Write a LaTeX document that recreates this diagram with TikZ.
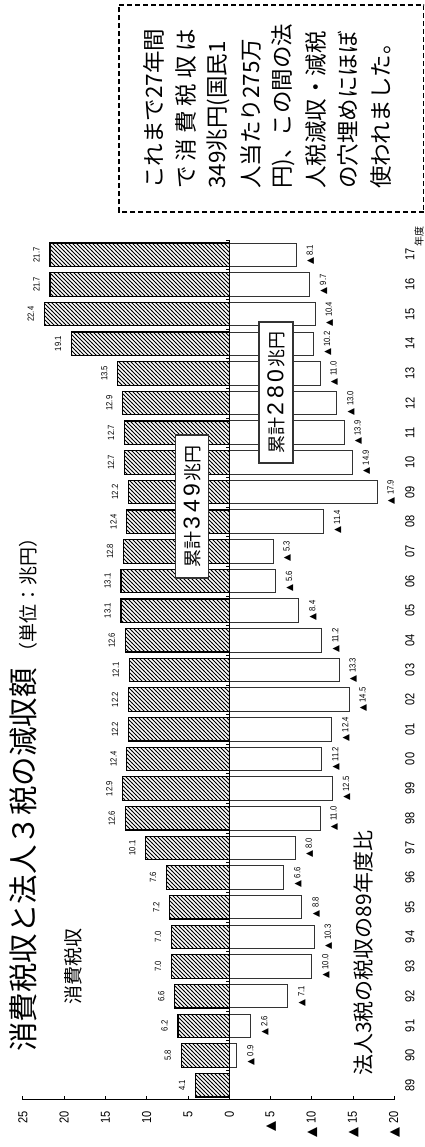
\documentclass[tikz,border=0pt]{standalone}
\usepackage{fontspec}
\setmainfont{Liberation Sans}
\newfontfamily\cjk{Noto Sans CJK JP}
\newfontfamily\numfont[FakeStretch=0.85]{Liberation Sans}
\newfontfamily\trifont{DejaVu Sans}
\usetikzlibrary{patterns}

\pgfdeclarepatternformonly{hatch}{\pgfqpoint{-1pt}{-1pt}}{\pgfqpoint{5pt}{5pt}}{\pgfqpoint{4pt}{4pt}}{%
  \pgfsetlinewidth{0.8pt}%
  \pgfpathmoveto{\pgfqpoint{-0.1pt}{4.1pt}}%
  \pgfpathlineto{\pgfqpoint{4.1pt}{-0.1pt}}%
  \pgfusepath{stroke}}

\begin{document}
\begin{tikzpicture}[x=1pt, y=1pt, rotate=90, transform shape,
    every node/.style={inner sep=0pt},
    consbar/.style={draw=black, line width=1.2pt, pattern=hatch},
    corpbar/.style={draw=black!80, line width=1pt, fill=white},
    vallabel/.style={font=\numfont\fontsize{9}{9}\selectfont},
    axislabel/.style={font=\numfont\fontsize{13}{13}\selectfont},
    sumbox/.style={draw=black!80, line width=1.2pt, fill=white,
      font=\cjk\fontsize{18}{18}\selectfont},
    notetext/.style={font=\cjk\fontsize{22.5}{22.5}\selectfont}]

  \useasboundingbox (0,0) rectangle (1147,425);

  % consumption tax
  \foreach \c [count=\i from 0] in {4.1,5.8,6.2,6.6,7.0,7.0,7.2,7.6,10.1,12.6,12.9,12.4,12.2,12.2,12.1,12.6,13.1,13.1,12.8,12.4,12.2,12.7,12.7,12.9,13.5,19.1,22.4,21.7,21.7}{
    \draw[consbar] (50.08+\i*29.655, 195.7) rectangle ++(23.5, \c*8.26);
    \node[vallabel] (c\i) at (61.83+\i*29.655, 209.2+\c*8.26) {\c};
  }

  % corporate taxes, decrease from 89
  \foreach \d [count=\i from 1] in {0.9,2.6,7.1,10.0,10.3,8.8,6.6,8.0,11.0,12.5,11.2,12.4,14.5,13.3,11.2,8.4,5.6,5.3,11.4,17.9,14.9,13.9,13.0,11.0,10.2,10.4,9.7,8.1}{
    \draw[corpbar] (50.08+\i*29.655, 195.7) rectangle ++(23.5, -\d*8.26);
    \node[vallabel] (d\i) at (61.83+\i*29.655, 181.7-\d*8.26) {{\trifont ▲}\hspace{2.5pt}\d};
  }

  % axes
  \draw[line width=1.3pt] (47, 195.7) -- (907, 195.7);
  \foreach \i in {1,...,29}
    \draw[line width=0.6pt] (47+\i*29.655, 195.7) -- ++(0, 3);
  \draw[line width=1pt] (47, 30.5) -- (47, 402.2);
  \foreach \v in {25,20,...,-20}
    \draw[line width=0.8pt] (47, 195.7+\v*8.26) -- ++(4, 0);
  \foreach \v in {25,20,...,0}
    \node[axislabel, anchor=east] (t\v) at (36, 195.7+\v*8.26) {\v};
  \foreach \v in {5,10,15,20}
    \node[axislabel, anchor=east] (m\v) at (36, 195.7-\v*8.26) {{\trifont ▲}\hspace{4pt}\v};

  % years
  \foreach \y [count=\i from 0] in {89,90,91,92,93,94,95,96,97,98,99,00,01,02,03,04,05,06,07,08,09,10,11,12,13,14,15,16}
    \node[axislabel] (y\i) at (61.83+\i*29.655, 15) {\y};
  \node[axislabel] (y28) at (892.2, 15) {17};
  \node[anchor=west, font=\cjk\fontsize{10}{10}\selectfont] (nendo) at (900, 6) {年度};

  % titles
  \node[anchor=west, font=\cjk\fontsize{29.5}{30}\selectfont] (title) at (95, 401.5) {消費税収と法人３税の減収額};
  \node[anchor=west, font=\cjk\fontsize{19}{19}\selectfont] (unit) at (485, 396.5) {（単位：兆円）};
  \node[anchor=west, font=\cjk\fontsize{19}{19}\selectfont] (conslabel) at (142, 352) {消費税収};
  \node[anchor=west, font=\cjk\fontsize{21}{21}\selectfont] (corplabel) at (71, 62) {法人3税の税収の89年度比};

  % totals
  \node[sumbox, minimum width=143pt, minimum height=33pt] (sum1) at (640.5, 232.6)
    {累計\hspace{2pt}{\rmfamily\fontsize{23}{23}\selectfont 3\hspace{4pt}4\hspace{4pt}9}\hspace{2pt}兆円};
  \node[sumbox, minimum width=141pt, minimum height=34pt] (sum2) at (754.5, 149)
    {累計\hspace{2pt}{\rmfamily\fontsize{23}{23}\selectfont 2\hspace{4pt}8\hspace{4pt}0}\hspace{2pt}兆円};

  % note
  \draw[line width=1.8pt, dash pattern=on 5pt off 3pt] (935, 1.5) rectangle (1142, 306);
  \foreach \t [count=\k from 0] in {これまで27年間,{\makebox[160pt][s]{で 消 費 税 収 は}},349兆円(国民1,人当たり275万,円)、この間の法,人税減収・減税,の穴埋めにほぼ,使われました。}
    \node[notetext, anchor=west] (note\k) at (958, 271-\k*32.4) {\t};
\end{tikzpicture}
\end{document}
